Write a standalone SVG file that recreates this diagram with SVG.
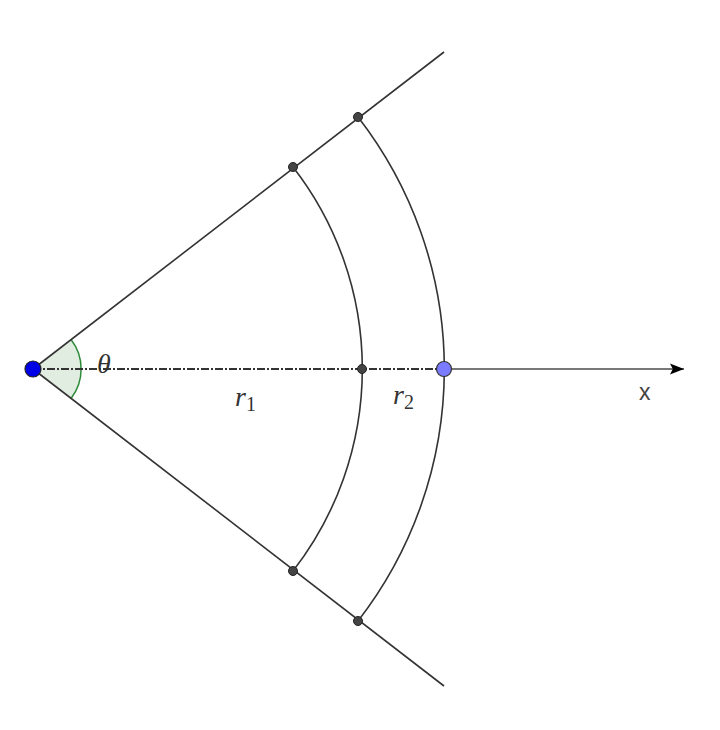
<svg xmlns="http://www.w3.org/2000/svg" width="720" height="730" viewBox="0 0 720 730">
<style>
.ln{stroke:#333;stroke-width:1.6;fill:none}
.pt{fill:#444;stroke:#222;stroke-width:1}
.lbl{font-family:"Liberation Serif","DejaVu Serif",serif;font-style:italic;font-size:28px;fill:#333}
.sub{font-size:20px;font-style:normal}
</style>
<defs>
<marker id="arr" viewBox="0 0 10 10" refX="10" refY="5" markerWidth="24" markerHeight="14" markerUnits="userSpaceOnUse" orient="auto">
<path d="M0,1 L10,5 L0,9 L2,5 z" fill="#000"/>
</marker>
</defs>
<rect width="720" height="730" fill="#fff"/>
<g id="angle">
<path d="M33,369 L71,339.5 A48,48 0 0 1 71,398.5 Z" fill="#dbe9d9" fill-opacity="0.8" stroke="none"/>
<path d="M71,339.5 A48,48 0 0 1 71,398.5" fill="none" stroke="#2e8b3a" stroke-width="1.5"/>
</g>
<g id="connectors">
<line class="ln" x1="33" y1="369" x2="444" y2="52"/>
<line class="ln" x1="33" y1="369" x2="444" y2="686"/>
<line x1="444" y1="369" x2="684" y2="369" stroke="#777" stroke-width="2" marker-end="url(#arr)"/>
<line x1="33" y1="369" x2="444" y2="369" stroke="#333" stroke-width="2" stroke-dasharray="8,2,2,2"/>
<path class="ln" d="M293,167 A329,329 0 0 1 293,571"/>
<path class="ln" d="M358,117 A411,411 0 0 1 358,621"/>
</g>
<g id="points">
<circle class="pt" cx="293" cy="167" r="4.5"/>
<circle class="pt" cx="358" cy="117" r="4.5"/>
<circle class="pt" cx="293" cy="571" r="4.5"/>
<circle class="pt" cx="358" cy="621" r="4.5"/>
<circle class="pt" cx="362" cy="369" r="4.5"/>
<circle cx="444" cy="369" r="7.5" fill="#7b7bff" stroke="#333" stroke-width="1.2"/>
<circle cx="33" cy="369" r="8" fill="#0000e6" stroke="#222" stroke-width="1.2"/>
</g>
<g id="labels">
<text class="lbl" x="97" y="373">θ</text>
<text class="lbl" x="235" y="406">r<tspan class="sub" dy="5">1</tspan></text>
<text class="lbl" x="393" y="404">r<tspan class="sub" dy="5">2</tspan></text>
<text x="639" y="400" font-family="Liberation Sans, DejaVu Sans, sans-serif" font-size="23" fill="#444">x</text>
</g>
</svg>
